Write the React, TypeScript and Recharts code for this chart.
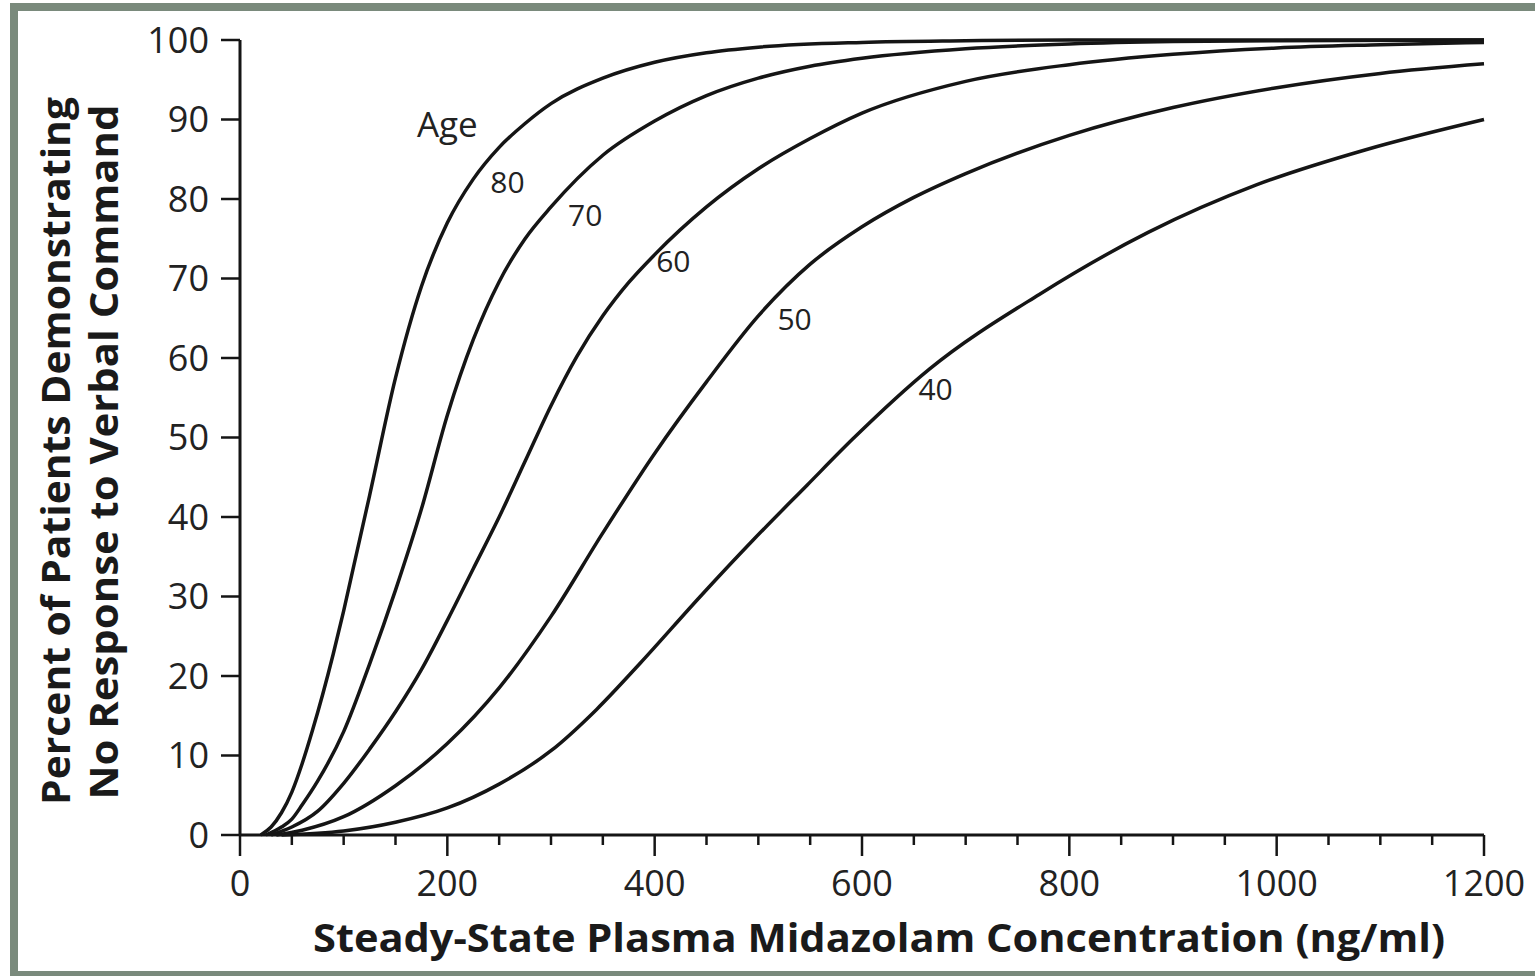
import React from 'react';
import { LineChart, Line, XAxis, YAxis, ReferenceDot, Label } from 'recharts';

// steady-state midazolam concentration (ng/ml) and % with no response, read per age curve
const conc80 = [20, 30, 40, 50, 60, 70, 80, 90, 100, 110, 125, 150, 175, 200, 225, 250, 275, 300, 350, 400, 450, 500, 600, 700, 800, 1200];
const pct80 = [0, 1, 2.8, 5.4, 9, 13.2, 17.8, 22.8, 28.2, 34, 42.7, 57.5, 69, 77, 82.5, 86.5, 89.5, 92, 95.2, 97.2, 98.4, 99.1, 99.7, 99.9, 100, 100];

const conc70 = [25, 40, 50, 60, 75, 100, 125, 150, 175, 200, 225, 250, 275, 300, 350, 400, 450, 500, 550, 600, 700, 800, 900, 1000, 1200];
const pct70 = [0, 1, 2, 3.8, 6.8, 13, 21.5, 30.8, 41, 52.8, 62.3, 69.6, 75, 79, 85.5, 89.8, 93, 95.2, 96.7, 97.7, 98.9, 99.5, 99.8, 99.9, 100];

const conc60 = [30, 50, 75, 100, 125, 150, 175, 200, 225, 250, 275, 300, 325, 350, 375, 400, 450, 500, 550, 600, 700, 800, 900, 1000, 1100, 1200];
const pct60 = [0, 1, 3, 6.5, 10.8, 15.5, 20.8, 27, 33.5, 40, 47, 54, 60.2, 65.3, 69.5, 73, 79, 83.8, 87.6, 90.8, 94.8, 96.9, 98.2, 99, 99.4, 99.7];

const conc50 = [35, 60, 100, 150, 200, 250, 300, 350, 400, 450, 500, 550, 600, 650, 700, 800, 900, 1000, 1100, 1200];
const pct50 = [0, 0.6, 2.3, 6.2, 11.5, 18.5, 27.5, 38, 48, 57, 65.3, 71.8, 76.5, 80.2, 83.2, 88, 91.5, 94, 95.8, 97];

const conc40 = [40, 100, 150, 200, 250, 300, 344, 386, 444, 495, 547, 591, 665, 771, 876, 981, 1086, 1200];
const pct40 = [0, 0.5, 1.6, 3.4, 6.4, 10.6, 15.8, 21.6, 30, 37.1, 44, 49.8, 58.6, 68, 75.8, 81.8, 86.2, 90];

const xTicks = [0, 50, 100, 150, 200, 250, 300, 350, 400, 450, 500, 550, 600, 650, 700, 750, 800, 850, 900, 950, 1000, 1050, 1100, 1150, 1200];
const yTicks = [0, 10, 20, 30, 40, 50, 60, 70, 80, 90, 100];

const toPoints = (xs: number[], ys: number[]) => xs.map((x, i) => ({ conc: x, pct: ys[i] }));

const series = [
  { age: 80, data: toPoints(conc80, pct80) },
  { age: 70, data: toPoints(conc70, pct70) },
  { age: 60, data: toPoints(conc60, pct60) },
  { age: 50, data: toPoints(conc50, pct50) },
  { age: 40, data: toPoints(conc40, pct40) },
];

// curve annotations (data coordinates)
const annotations = [
  { text: 'Age', x: 200, y: 89.3, size: 35 },
  { text: '80', x: 258, y: 82.1, size: 30 },
  { text: '70', x: 333, y: 77.9, size: 30 },
  { text: '60', x: 418, y: 72.1, size: 30 },
  { text: '50', x: 535, y: 64.9, size: 30 },
  { text: '40', x: 671, y: 56.1, size: 30 },
];

const font = '"Open Sans", "DejaVu Sans", sans-serif';
const ink = '#151515';

const XTick = ({ x, y, payload }: any) => {
  const major = payload.value % 200 === 0;
  return (
    <g>
      <line x1={x} x2={x} y1={y} y2={y + (major ? 21 : 10)} stroke={ink} strokeWidth={2.5} />
      {major && (
        <text x={x} y={y + 61} textAnchor="middle" fontSize={36} fontFamily={font} fill="#222">
          {payload.value}
        </text>
      )}
    </g>
  );
};

const YTick = ({ x, y, payload }: any) => (
  <g>
    <line x1={x - 19} x2={x} y1={y} y2={y} stroke={ink} strokeWidth={2.5} />
    <text x={x - 31} y={y} dy="0.36em" textAnchor="end" fontSize={36} fontFamily={font} fill="#222">
      {payload.value}
    </text>
  </g>
);

const App = () => {
  return (
    <div style={{ position: 'fixed', left: 0, top: 0, width: 1535, height: 976, overflow: 'hidden', background: '#fff' }}>
      <div
        style={{
          position: 'absolute',
          left: 10,
          top: 3,
          width: 1545,
          height: 976,
          border: '8px solid #7a8a7c',
          boxSizing: 'border-box',
        }}
      />
      <div style={{ position: 'absolute', left: 0, top: 0 }}>
        <LineChart width={1535} height={976} margin={{ top: 40, right: 51, bottom: 0, left: 0 }}>
          <XAxis
            dataKey="conc"
            type="number"
            domain={[0, 1200]}
            ticks={xTicks}
            interval={0}
            height={141}
            tickSize={0}
            tickMargin={0}
            tickLine={false}
            tick={<XTick />}
            axisLine={{ stroke: ink, strokeWidth: 3 }}
          >
            <Label
              content={() => (
                <text
                  x={879}
                  y={952}
                  textAnchor="middle"
                  fontSize={40}
                  fontWeight="bold"
                  fontFamily={font}
                  fill="#1a1a1a"
                  textLength={1132}
                  lengthAdjust="spacingAndGlyphs"
                >
                  Steady-State Plasma Midazolam Concentration (ng/ml)
                </text>
              )}
            />
          </XAxis>
          <YAxis
            type="number"
            domain={[0, 100]}
            ticks={yTicks}
            interval={0}
            width={240}
            tickSize={0}
            tickMargin={0}
            tickLine={false}
            tick={<YTick />}
            axisLine={{ stroke: ink, strokeWidth: 3 }}
          >
            <Label
              content={() => (
                <g>
                  <text
                    transform="translate(70 451) rotate(-90)"
                    textAnchor="middle"
                    fontSize={40}
                    fontWeight="bold"
                    fontFamily={font}
                    fill="#1a1a1a"
                    textLength={708}
                    lengthAdjust="spacingAndGlyphs"
                  >
                    Percent of Patients Demonstrating
                  </text>
                  <text
                    transform="translate(118 452) rotate(-90)"
                    textAnchor="middle"
                    fontSize={40}
                    fontWeight="bold"
                    fontFamily={font}
                    fill="#1a1a1a"
                    textLength={695}
                    lengthAdjust="spacingAndGlyphs"
                  >
                    No Response to Verbal Command
                  </text>
                </g>
              )}
            />
          </YAxis>
          {series.map((s) => (
            <Line
              key={s.age}
              data={s.data}
              dataKey="pct"
              name={`Age ${s.age}`}
              type="monotone"
              stroke={ink}
              strokeWidth={3.5}
              dot={false}
              isAnimationActive={false}
            />
          ))}
          {annotations.map((a) => (
            <ReferenceDot
              key={a.text}
              x={a.x}
              y={a.y}
              r={0}
              fill="none"
              stroke="none"
              label={{ value: a.text, position: 'center', fontSize: a.size, fontFamily: font, fill: '#222' }}
            />
          ))}
        </LineChart>
      </div>
    </div>
  );
};

export default App;
